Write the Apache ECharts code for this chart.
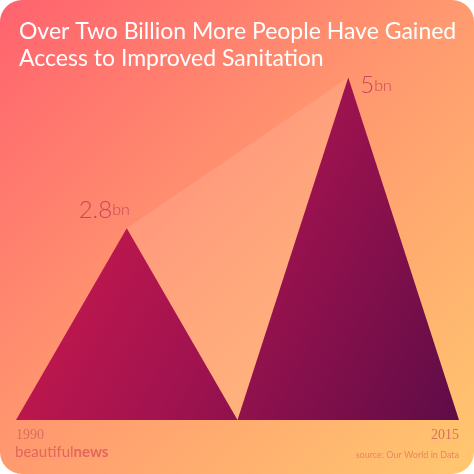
<!DOCTYPE html>
<html><head><meta charset="utf-8">
<script src="https://cdn.jsdelivr.net/npm/echarts@6/dist/echarts.min.js"></script>
<style>html,body{margin:0;padding:0;background:#fff;}#c{width:474px;height:474px;}</style>
</head><body><div id="c"></div>
<script>
const categories = ['1990', '2015'];
const values = [2.8, 5];
const valueLabels = ['2.8', '5'];
const unit = 'bn';
const yearTicks = ['1990', '2015'];
const titleText = 'Over Two Billion More People Have Gained\nAccess to Improved Sanitation';
const brandA = 'beautiful';
const brandB = 'news';
const sourceText = 'source: Our World in Data';

const chart = echarts.init(document.getElementById('c'), null, {renderer: 'canvas'});

function markGradient(cs) {
  return new echarts.graphic.LinearGradient(cs.x, cs.y + 180, cs.x + cs.width, cs.y + cs.height, [
    {offset: 0, color: '#cf1a4c'},
    {offset: 0.45, color: '#a3134f'},
    {offset: 1, color: '#5e0c47'}
  ], true);
}

const option = {
  backgroundColor: 'transparent',
  animation: false,
  graphic: [
    {type: 'rect', z: -10, shape: {x: 0, y: 0, width: 474, height: 474, r: 22},
     style: {fill: new echarts.graphic.LinearGradient(0, 0, 1, 1, [
       {offset: 0, color: '#ff626e'},
       {offset: 0.5, color: '#ff9a6f'},
       {offset: 1, color: '#ffc86f'}
     ])}},
    {type: 'text', left: 15, top: 445, style: {
      text: '{a|' + brandA + '}{b|' + brandB + '}',
      rich: {
        a: {fontFamily: 'Lato', fontSize: 15, fontWeight: 'normal', fill: '#e2675c'},
        b: {fontFamily: 'Lato', fontSize: 15, fontWeight: 'bold', fill: '#e2675c'}
      }}},
    {type: 'text', right: 15, top: 451, style: {
      text: sourceText, fontFamily: 'Lato', fontSize: 9, fill: '#e8875f'}}
  ],
  title: {
    text: titleText, left: 14, top: 13,
    textStyle: {color: '#fff', fontFamily: 'Lato', fontWeight: 'normal', fontSize: 23, lineHeight: 27}
  },
  grid: {left: 16, right: 15, top: 9, bottom: 54},
  xAxis: [
    {type: 'category', data: categories, show: false, boundaryGap: true},
    {type: 'category', data: yearTicks, boundaryGap: false, position: 'bottom',
     axisLine: {show: false}, axisTick: {show: false}, splitLine: {show: false},
     axisLabel: {show: true, margin: 8, alignMinLabel: 'left', alignMaxLabel: 'right',
       fontFamily: 'Liberation Sans Narrow', fontSize: 14, color: '#d8705c'}}
  ],
  yAxis: {type: 'value', min: 0, max: 6, show: false},
  series: [
    {
      type: 'custom', xAxisIndex: 0, yAxisIndex: 0, z: 1,
      data: [[0, values[0], 1, values[1]]],
      renderItem: function (params, api) {
        const p1 = api.coord([api.value(0), api.value(1)]);
        const p2 = api.coord([api.value(2), api.value(3)]);
        const b1 = api.coord([api.value(0), 0]);
        const w = api.size([1, 0])[0];
        return {type: 'polygon', shape: {points: [p1, p2, [b1[0] + w / 2, b1[1]]]},
          style: {fill: 'rgba(255,205,180,0.2)'}};
      }
    },
    {
      type: 'custom', xAxisIndex: 0, yAxisIndex: 0, z: 2,
      data: values.map((v, i) => [i, v]),
      renderItem: function (params, api) {
        const i = api.value(0);
        const top = api.coord([i, api.value(1)]);
        const base = api.coord([i, 0]);
        const w = api.size([1, 0])[0];
        const cs = params.coordSys;
        const left = i === 0;
        return {type: 'group', children: [
          {type: 'polygon', shape: {points: [[base[0] - w / 2, base[1]], top, [base[0] + w / 2, base[1]]]},
           style: {fill: markGradient(cs)}},
          {type: 'text', style: {
            text: '{a|' + valueLabels[params.dataIndex] + '}{b|' + unit + '}',
            x: left ? top[0] + 3 : top[0] + 12,
            y: left ? top[1] - 6 : top[1] + 20,
            align: left ? 'right' : 'left', verticalAlign: 'bottom',
            rich: {
              a: {fontFamily: 'Lato', fontSize: 24, fontWeight: 300, fill: '#c7485b'},
              b: {fontFamily: 'Lato', fontSize: 16, fontWeight: 300, fill: '#c7485b'}
            }}}
        ]};
      }
    }
  ]
};
chart.setOption(option);
</script></body></html>
